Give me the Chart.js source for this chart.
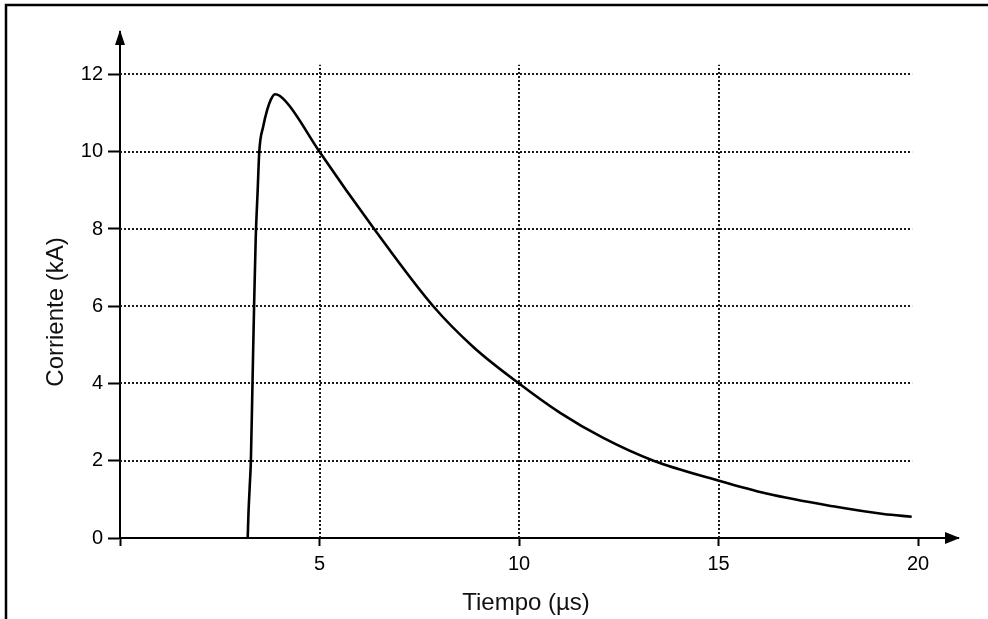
<!DOCTYPE html>
<html>
<head>
<meta charset="utf-8">
<script src="https://cdn.jsdelivr.net/npm/chart.js@4"></script>
<style>
  body { margin:0; background:#fff; }
  #caja { width:988px; height:619px; position:relative; }
</style>
</head>
<body>
<div id="caja"><canvas id="grafica"></canvas></div>
<script>
// datos (tiempo en us, corriente en kA)
var tiempo    = [3.2, 3.22, 3.25, 3.28, 3.32, 3.36, 3.40, 3.45, 3.49, 3.59, 3.69, 3.78, 3.88, 4.0, 4.26, 5.0, 6.37, 7.85, 8.86, 10.0, 11.03, 12.11, 13.37, 14.95, 16.2, 17.87, 19.13, 19.84];
var corriente = [0, 0.65, 1.32, 2.0, 4.0, 6.0, 7.72, 9.0, 10.0, 10.66, 11.09, 11.35, 11.49, 11.45, 11.17, 10.0, 8.0, 6.0, 4.94, 4.0, 3.24, 2.59, 2.0, 1.5, 1.15, 0.82, 0.62, 0.55];

var ticksX = [5, 10, 15, 20];
var ticksY = [0, 2, 4, 6, 8, 10, 12];
var tituloX = 'Tiempo (µs)';
var tituloY = 'Corriente (kA)';

var puntos = [];
for (var i = 0; i < tiempo.length; i++) {
  puntos.push({x: tiempo[i], y: corriente[i]});
}

Chart.defaults.font.family = 'Liberation Sans';
Chart.defaults.color = '#000';

// rejilla punteada, flechas, marco y titulos
var dibujoExtra = {
  id: 'dibujoExtra',
  beforeDatasetsDraw: function(chart) {
    var c = chart.ctx, sx = chart.scales.x, sy = chart.scales.y;
    c.save();
    c.strokeStyle = '#1a1a1a';
    c.lineWidth = 2;
    c.setLineDash([2, 2]);
    // horizontales
    for (var i = 1; i < ticksY.length; i++) {
      var y = Math.round(sy.getPixelForValue(ticksY[i]));
      c.beginPath();
      c.moveTo(sx.getPixelForValue(0), y);
      c.lineTo(sx.getPixelForValue(19.85), y);
      c.stroke();
    }
    // verticales
    for (var j = 0; j < ticksX.length - 1; j++) {
      var x = Math.round(sx.getPixelForValue(ticksX[j]));
      c.beginPath();
      c.moveTo(x, sy.getPixelForValue(0));
      c.lineTo(x, sy.getPixelForValue(12.25));
      c.stroke();
    }
    c.restore();
  },
  afterDraw: function(chart) {
    var c = chart.ctx, a = chart.chartArea;
    c.save();
    c.fillStyle = '#000';
    // flecha eje y
    c.beginPath();
    c.moveTo(a.left, a.top - 2);
    c.lineTo(a.left - 5, a.top + 13);
    c.lineTo(a.left + 5, a.top + 13);
    c.closePath();
    c.fill();
    // flecha eje x
    c.beginPath();
    c.moveTo(a.right + 2, a.bottom);
    c.lineTo(a.right - 13, a.bottom - 6);
    c.lineTo(a.right - 13, a.bottom + 6);
    c.closePath();
    c.fill();
    // marco arriba e izquierda
    c.strokeStyle = '#000';
    c.lineWidth = 2.5;
    c.beginPath();
    c.moveTo(6, 619);
    c.lineTo(6, 5);
    c.lineTo(988, 5);
    c.stroke();
    // titulos de ejes
    c.fillStyle = '#111';
    c.font = '24px "Liberation Sans"';
    c.textAlign = 'center';
    c.textBaseline = 'middle';
    c.fillText(tituloX, 526, 603);
    c.translate(56, 312);
    c.rotate(-Math.PI / 2);
    c.fillText(tituloY, 0, 0);
    c.restore();
  }
};

new Chart(document.getElementById('grafica'), {
  type: 'line',
  data: {
    datasets: [{
      data: puntos,
      borderColor: '#000',
      borderWidth: 2.6,
      pointRadius: 0,
      fill: false,
      cubicInterpolationMode: 'monotone'
    }]
  },
  options: {
    responsive: true,
    maintainAspectRatio: false,
    animation: false,
    layout: { padding: { left: 0, right: 30, top: 32, bottom: 0 } },
    plugins: { legend: { display: false }, tooltip: { enabled: false } },
    scales: {
      x: {
        type: 'linear',
        min: 0,
        max: 21,
        afterFit: function(s) { s.height = 81; },
        border: { display: true, color: '#000', width: 2 },
        grid: { drawOnChartArea: false, drawTicks: true, tickLength: 8, tickWidth: 2, tickColor: '#000' },
        ticks: {
          stepSize: 5,
          includeBounds: false,
          padding: 6,
          maxRotation: 0,
          font: { size: 20 },
          callback: function(v) { return ticksX.indexOf(v) >= 0 ? String(v) : ''; }
        }
      },
      y: {
        min: 0,
        max: 13.1,
        afterFit: function(s) { s.width = 120; },
        border: { display: true, color: '#000', width: 2 },
        grid: { drawOnChartArea: false, drawTicks: true, tickLength: 12, tickWidth: 2, tickColor: '#000' },
        ticks: {
          stepSize: 2,
          includeBounds: false,
          padding: 5,
          font: { size: 20 },
          callback: function(v) { return ticksY.indexOf(v) >= 0 ? String(v) : ''; }
        }
      }
    }
  },
  plugins: [dibujoExtra]
});
</script>
</body>
</html>
